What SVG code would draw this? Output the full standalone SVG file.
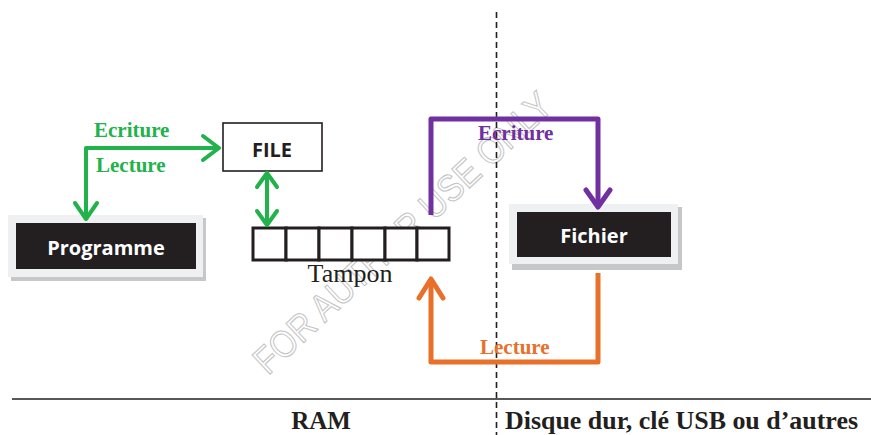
<svg xmlns="http://www.w3.org/2000/svg" width="871" height="435" viewBox="0 0 871 435">
  <style>
    .lbl { font-family: "Liberation Serif", "Times New Roman", serif; font-weight: 700; font-size: 21px; }
    .box-txt { font-family: "Open Sans", "Liberation Sans", sans-serif; font-weight: 700; font-size: 20px; text-anchor: middle; }
    .frame { fill: #eff0f2; }
    .shadow { fill: #c6c7c9; }
    .dark { fill: #231f20; }
    .cell { fill: #ffffff; stroke: #231f20; stroke-width: 3; }
    .g { stroke: #22b24c; stroke-width: 4; fill: none; stroke-linejoin: round; stroke-linecap: round; }
    .p { stroke: #7030a0; stroke-width: 5; fill: none; stroke-linejoin: round; stroke-linecap: butt; }
    .o { stroke: #e8702a; stroke-width: 5; fill: none; stroke-linejoin: round; stroke-linecap: butt; }
    .head-p { stroke: #7030a0; stroke-width: 5; fill: none; stroke-linejoin: round; stroke-linecap: round; }
    .head-o { stroke: #e8702a; stroke-width: 5; fill: none; stroke-linejoin: round; stroke-linecap: round; }
    .zone { font-family: "Liberation Serif", "Times New Roman", serif; font-weight: 700; font-size: 25px; fill: #231f20; }
  </style>

  <!-- watermark -->
  <text x="0" y="0" transform="translate(268,376) rotate(-43)" font-family="Liberation Sans, Arial, sans-serif" font-size="38" fill="none" stroke="#c4c4c4" stroke-width="1.1" textLength="392" lengthAdjust="spacingAndGlyphs">FOR AUTHOR USE ONLY</text>

  <!-- memory / storage separators -->
  <line x1="496.5" y1="12" x2="496.5" y2="435" stroke="#231f20" stroke-width="1.6" stroke-dasharray="6 4"/>
  <line x1="12" y1="399" x2="871" y2="399" stroke="#231f20" stroke-width="1.6"/>
  <text class="zone" x="321" y="429" text-anchor="middle">RAM</text>
  <text class="zone" x="505" y="429" textLength="353" lengthAdjust="spacingAndGlyphs">Disque dur, clé USB ou d’autres</text>

  <!-- Programme -->
  <g id="programme">
    <rect class="shadow" x="11" y="218" width="195" height="63"/>
    <rect class="frame" x="8" y="215" width="195" height="62"/>
    <rect class="dark" x="16" y="223" width="180" height="46"/>
    <text class="box-txt" x="106" y="255" fill="#ffffff">Programme</text>
  </g>

  <!-- FILE -->
  <g id="file">
    <rect x="223" y="123" width="99" height="48" fill="#ffffff" stroke="#231f20" stroke-width="1.6"/>
    <text class="box-txt" x="272" y="157" fill="#231f20">FILE</text>
  </g>

  <!-- Tampon (buffer) -->
  <g id="tampon">
    <rect class="cell" x="253" y="228" width="33" height="32"/>
    <rect class="cell" x="286" y="228" width="33" height="32"/>
    <rect class="cell" x="319" y="228" width="33" height="32"/>
    <rect class="cell" x="352" y="228" width="33" height="32"/>
    <rect class="cell" x="385" y="228" width="32" height="32"/>
    <rect class="cell" x="417" y="228" width="32" height="32"/>
    <text x="350" y="282" text-anchor="middle" font-family="Liberation Serif, Times New Roman, serif" font-size="26" fill="#231f20">Tampon</text>
  </g>

  <!-- Fichier -->
  <g id="fichier">
    <rect class="shadow" x="512" y="207" width="170" height="63"/>
    <rect class="frame" x="509" y="204" width="169" height="60"/>
    <rect class="dark" x="517" y="212" width="154" height="45"/>
    <text class="box-txt" x="594" y="243" fill="#ffffff">Fichier</text>
  </g>

  <!-- connectors -->
  <g id="connectors">
    <!-- Programme <-> FILE -->
    <polyline class="g" points="86,218 86,148 218,148"/>
    <polyline class="g" points="203,136 219,148 203,160"/>
    <polyline class="g" points="75,203 86,219 97,203"/>
    <text class="lbl" x="94" y="137" fill="#22b24c">Ecriture</text>
    <text class="lbl" x="96" y="172" fill="#22b24c">Lecture</text>

    <!-- FILE <-> Tampon -->
    <line class="g" x1="267" y1="173" x2="267" y2="225"/>
    <polyline class="g" points="257,187 267,173 277,187"/>
    <polyline class="g" points="257,211 267,225 277,211"/>

    <!-- Tampon -> Fichier (write) -->
    <polyline class="p" points="431,215 431,119 598,119 598,206"/>
    <polyline class="head-p" points="586,190 598,207 610,190"/>
    <text class="lbl" x="478" y="140" fill="#7030a0">Ecriture</text>

    <!-- Fichier -> Tampon (read) -->
    <polyline class="o" points="598,273 598,362 431,362 431,280"/>
    <polyline class="head-o" points="419,298 431,279 443,298"/>
    <text class="lbl" x="480" y="354" fill="#e8702a">Lecture</text>
  </g>
</svg>
